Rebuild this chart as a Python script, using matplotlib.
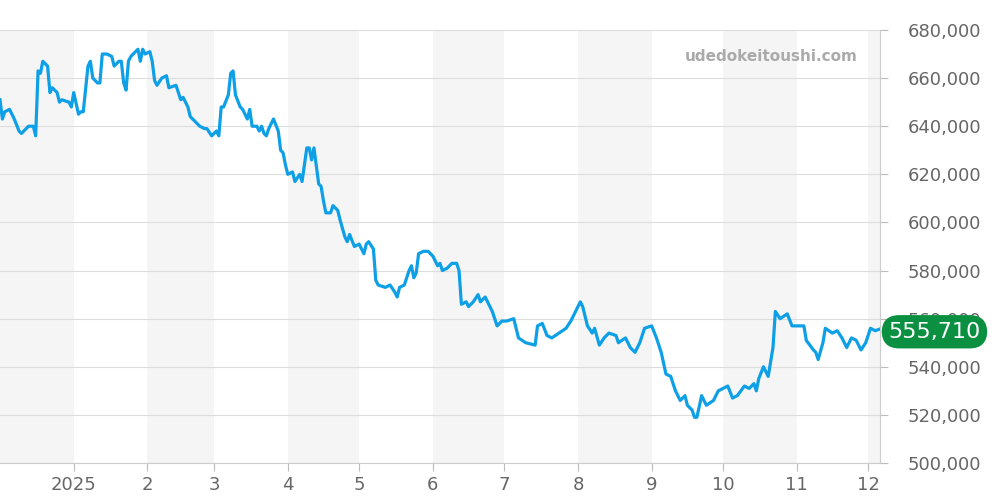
import datetime as dt
import matplotlib
matplotlib.use("Agg")
import matplotlib.pyplot as plt
from matplotlib.ticker import FuncFormatter

# (days since 2024-12-01, price in yen)
readings = [
    (0, 651000), (1, 643000), (2, 646000), (4, 647000), (6, 643000), (8, 638000),
    (9, 637000), (12, 640000), (14, 640000), (15, 636000), (16, 663000), (17, 662000),
    (18, 667000), (20, 665000), (21, 654000), (22, 656000), (24, 654000), (25, 650000),
    (26, 651000), (29, 650000), (30, 648000), (31, 654000), (33, 645000), (34, 646000),
    (35, 646000), (37, 665000), (38, 667000), (39, 660000), (41, 658000), (42, 658000),
    (43, 670000), (45, 670000), (47, 669000), (48, 665000), (50, 667000), (51, 667000),
    (52, 658000), (53, 655000), (54, 667000), (55, 669000), (56, 670000), (58, 672000),
    (59, 667000), (60, 672000), (61, 670000), (63, 671000), (64, 667000), (65, 659000),
    (66, 657000), (68, 660000), (70, 661000), (71, 656000), (74, 657000), (75, 654000),
    (76, 651000), (77, 652000), (79, 648000), (80, 644000), (82, 642000), (84, 640000),
    (86, 639000), (87, 639000), (89, 636000), (91, 638000), (92, 636000), (93, 648000),
    (94, 648000), (96, 653000), (97, 662000), (98, 663000), (99, 653000), (101, 648000),
    (102, 647000), (104, 643000), (105, 647000), (106, 640000), (108, 640000), (109, 638000),
    (110, 640000), (111, 637000), (112, 636000), (113, 639000), (115, 643000), (117, 638000),
    (118, 630000), (119, 629000), (120, 624000), (121, 620000), (123, 621000), (124, 617000),
    (126, 620000), (127, 617000), (129, 631000), (130, 631000), (131, 626000), (132, 631000),
    (134, 616000), (135, 615000), (136, 609000), (137, 604000), (139, 604000), (140, 607000),
    (142, 605000), (143, 601000), (145, 594000), (146, 592000), (147, 595000), (149, 590000),
    (151, 591000), (153, 587000), (154, 591000), (155, 592000), (157, 589000), (158, 576000),
    (159, 574000), (162, 573000), (164, 574000), (166, 571000), (167, 569000), (168, 573000),
    (170, 574000), (172, 580000), (173, 582000), (174, 577000), (175, 579000), (176, 587000),
    (178, 588000), (180, 588000), (182, 586000), (184, 582000), (185, 583000), (186, 580000),
    (188, 581000), (189, 582000), (190, 583000), (192, 583000), (193, 580000), (194, 566000),
    (196, 567000), (197, 565000), (199, 567000), (201, 570000), (202, 567000), (204, 569000),
    (205, 567000), (207, 563000), (209, 557000), (211, 559000), (213, 559000), (216, 560000),
    (218, 552000), (221, 550000), (225, 549000), (226, 557000), (228, 558000), (230, 553000),
    (232, 552000), (235, 554000), (238, 556000), (240, 559000), (242, 563000), (244, 567000),
    (245, 565000), (247, 557000), (249, 554000), (250, 556000), (252, 549000), (254, 552000),
    (256, 554000), (259, 553000), (260, 550000), (263, 552000), (265, 548000), (267, 546000),
    (269, 550000), (271, 556000), (274, 557000), (276, 552000), (278, 546000), (280, 537000),
    (282, 536000), (284, 530000), (286, 526000), (288, 528000), (289, 524000), (291, 522000),
    (292, 519000), (293, 519000), (295, 528000), (297, 524000), (300, 526000), (302, 530000),
    (306, 532000), (308, 527000), (310, 528000), (313, 532000), (315, 531000), (317, 533000),
    (318, 530000), (319, 535000), (321, 540000), (323, 536000), (325, 548000), (326, 563000),
    (328, 560000), (331, 562000), (333, 557000), (336, 557000), (338, 557000), (339, 551000),
    (342, 547000), (343, 546000), (344, 543000), (346, 550000), (347, 556000), (350, 554000),
    (352, 555000), (354, 552000), (356, 548000), (358, 552000), (360, 551000), (362, 547000),
    (364, 550000), (366, 556000), (368, 555000), (370, 555710),
]

start = dt.date(2024, 12, 1)
dates = [start + dt.timedelta(days=d) for d, _ in readings]
prices = [p for _, p in readings]
last_price = prices[-1]

month_starts = [dt.date(2024, 12, 1)] + [dt.date(2025, m, 1) for m in range(1, 13)]
month_labels = ["", "2025", "2", "3", "4", "5", "6", "7", "8", "9", "10", "11", "12"]

fig = plt.figure(figsize=(10, 5), dpi=100)
ax = fig.add_axes([0.0, 0.074, 0.88, 0.866])

x_end = dt.date(2025, 12, 6)
for i, m in enumerate(month_starts):
    if i % 2 == 0:
        nxt = month_starts[i + 1] if i + 1 < len(month_starts) else x_end
        ax.axvspan(m, nxt, color="#f5f5f5", zorder=0, lw=0)

ax.plot(dates, prices, color="#0ea0e6", lw=2.3, zorder=3)

ax.set_xlim(start, x_end)
ax.set_ylim(500000, 680000)
ax.set_yticks(range(500000, 680001, 20000))
ax.yaxis.set_major_formatter(FuncFormatter(lambda v, _: f"{int(v):,}"))
ax.yaxis.tick_right()
ax.grid(axis="y", color="#dddddd", lw=0.8, zorder=1)
ax.set_xticks(month_starts[1:])
ax.set_xticklabels(month_labels[1:])
ax.tick_params(axis="both", colors="#bbbbbb", labelcolor="#666666", labelsize=13, length=6)
ax.tick_params(axis="y", pad=14)
for side in ["top", "left"]:
    ax.spines[side].set_visible(False)
ax.spines["right"].set_color("#cccccc")
ax.spines["bottom"].set_color("#cccccc")

ax.text(0.975, 0.955, "udedokeitoushi.com", transform=ax.transAxes, ha="right", va="top",
        fontsize=11, fontweight="bold", color="#aaaaaa")

ax.annotate(f"{last_price:,}", xy=(1.0, last_price), xycoords=("axes fraction", "data"),
            xytext=(6, -2), textcoords="offset points", ha="left", va="center",
            fontsize=16, color="white", zorder=5, annotation_clip=False,
            bbox=dict(boxstyle="round,pad=0.3,rounding_size=0.8", fc="#0a9040", ec="none"))

fig.savefig("out.png", dpi=100)
